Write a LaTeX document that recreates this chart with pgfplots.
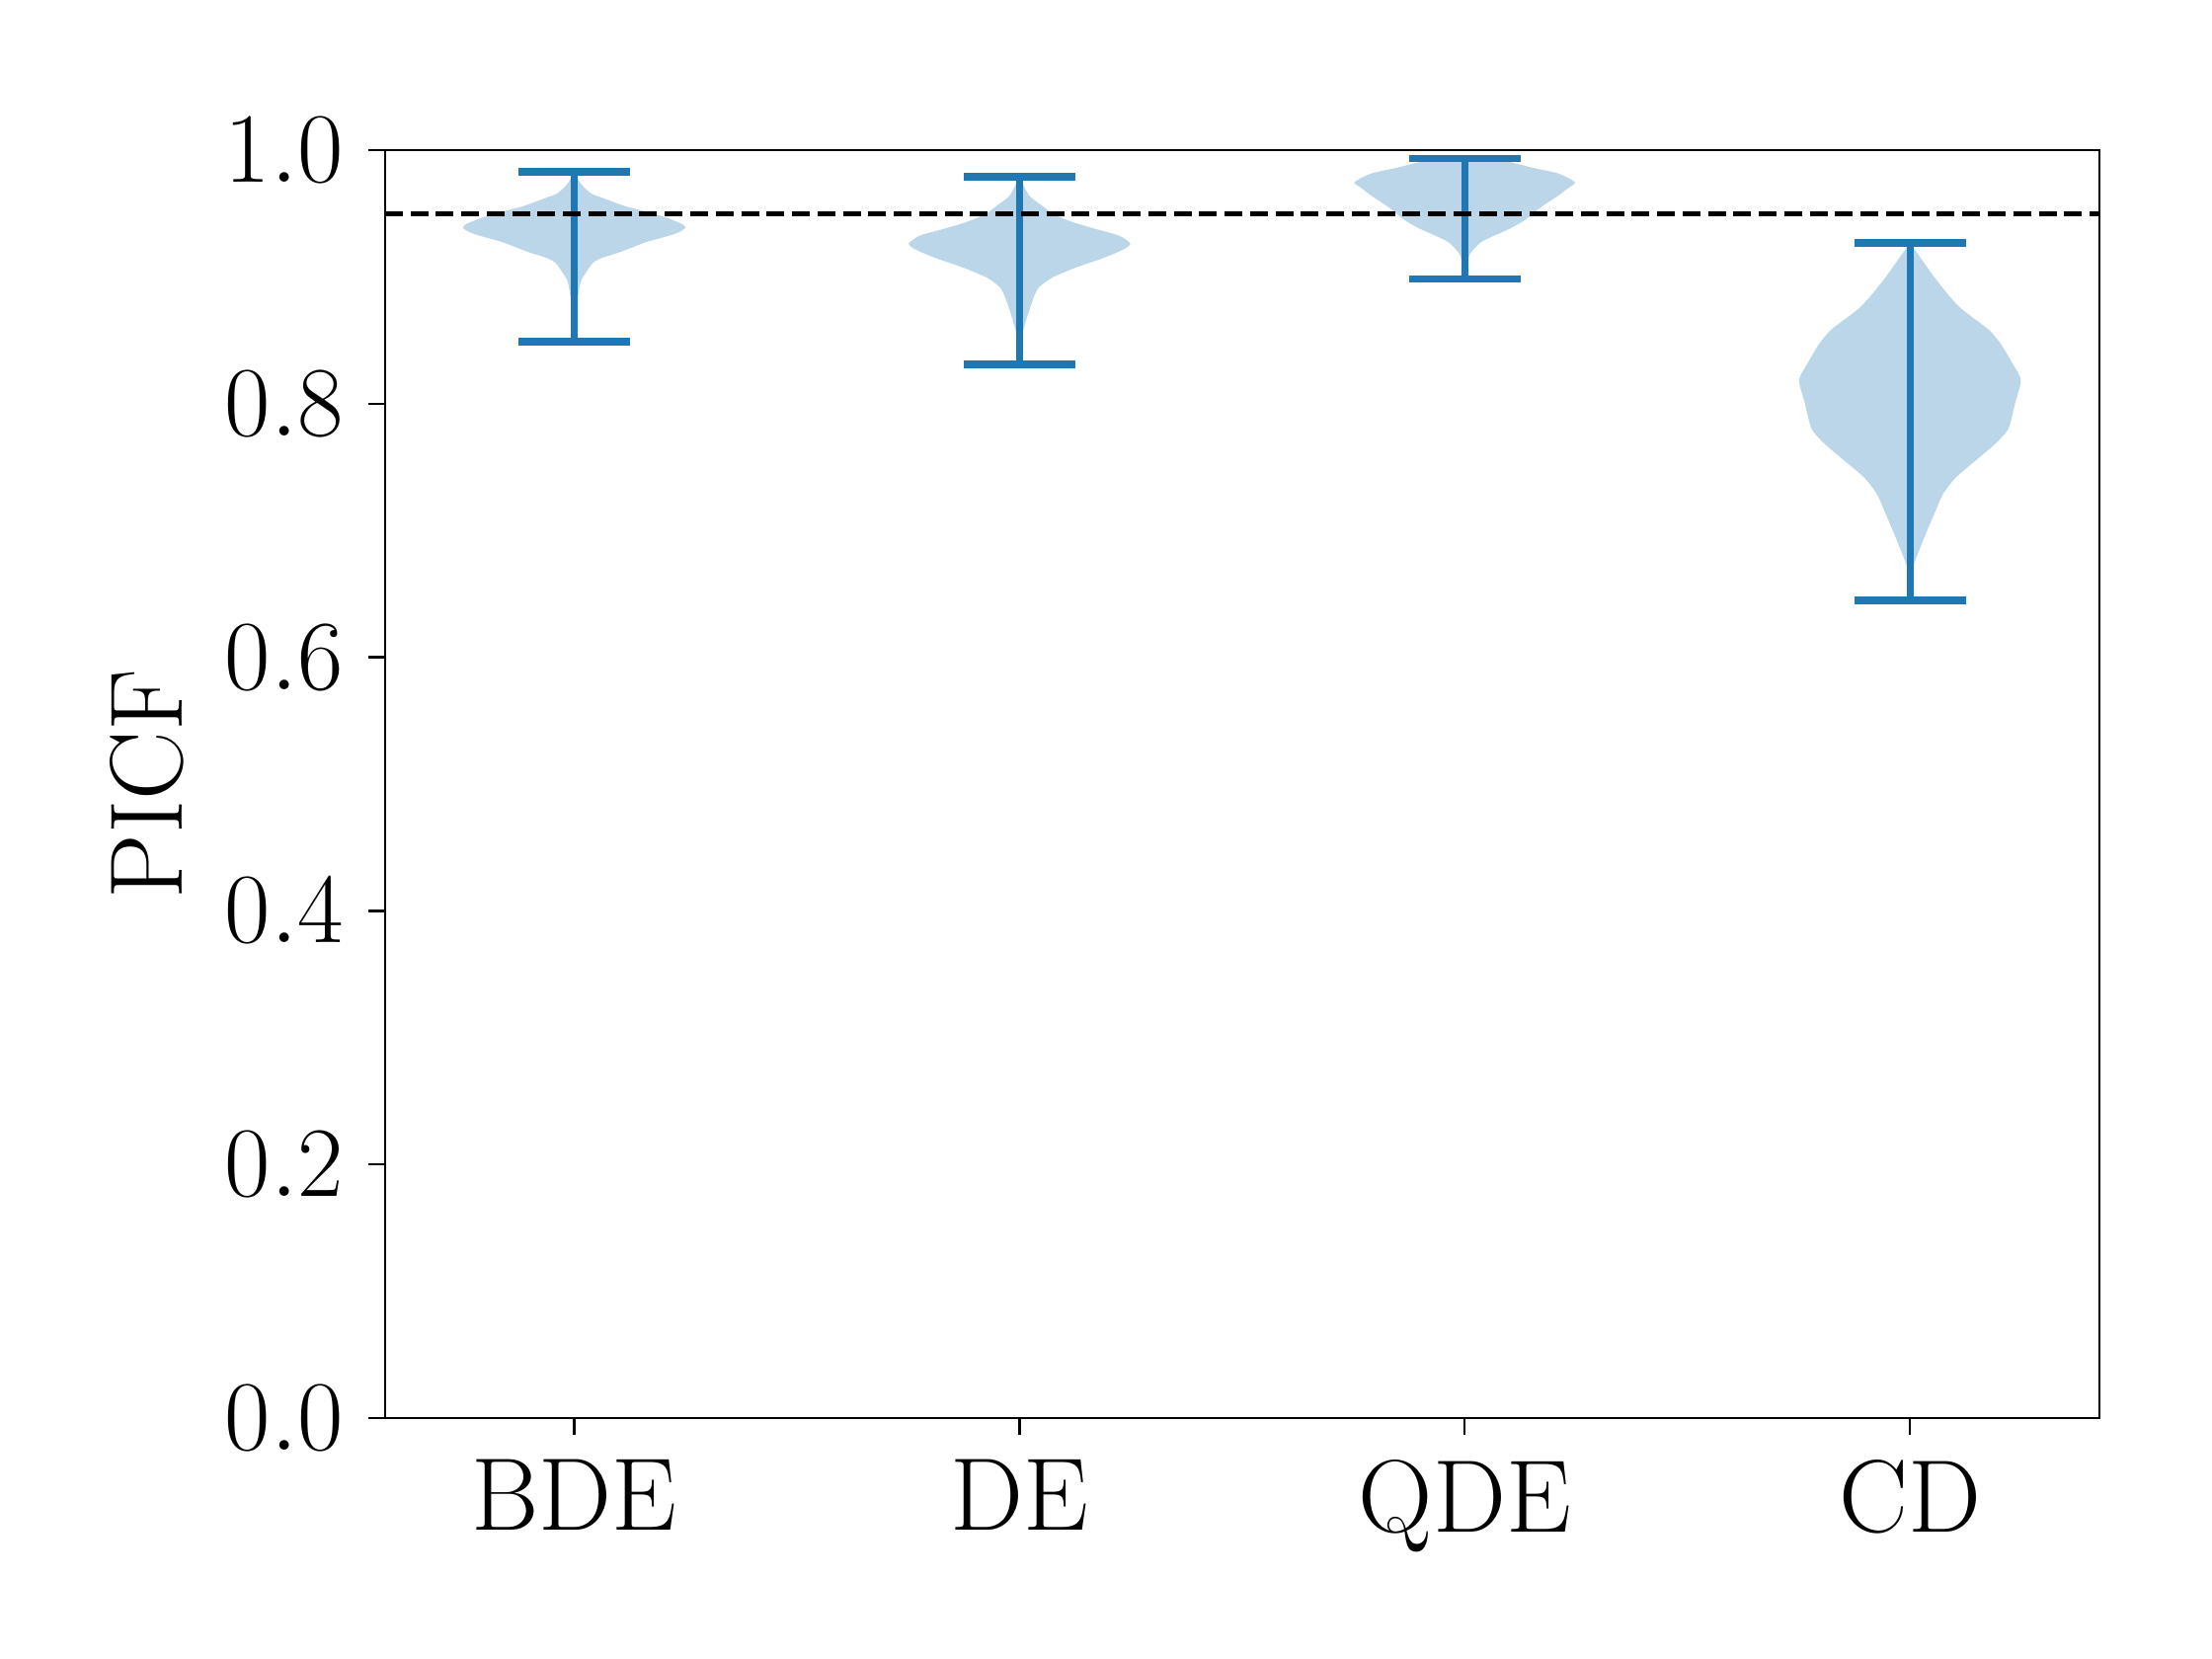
\documentclass[border=0pt]{standalone}
\usepackage{pgfplots}
\pgfplotsset{compat=1.18}
\definecolor{tabblue}{HTML}{1F77B4}
\definecolor{violinfill}{RGB}{187,214,232}

\begin{document}
\fontsize{21.5}{25}\selectfont
\begin{tikzpicture}
\begin{axis}[
  width=357.1pt, height=264.1pt, scale only axis,
  xmin=0.575, xmax=4.425, ymin=0, ymax=1,
  xtick={1,2,3,4}, xticklabels={BDE,DE,QDE,CD},
  ytick={0,0.2,0.4,0.6,0.8,1.0},
  yticklabel style={xshift=2.2pt, /pgf/number format/.cd, fixed, fixed zerofill, precision=1},
  xticklabel style={yshift=2.2pt},
  tick align=outside, tick pos=left,
  major tick length=3.5pt,
  every tick/.style={black, line width=0.5pt},
  axis line style={line width=0.3pt},
  ylabel={PICF},
  every axis y label/.style={at={([xshift=-41.8pt]axis description cs:0,0.5)},
    rotate=90, anchor=south, inner sep=0pt},
  line cap=butt,
]
% violin bodies
\addplot[draw=none, fill=violinfill, smooth, tension=0.4] coordinates {
  (1,0.983) (1.015,0.9736) (1.038,0.9659) (1.066,0.9621) (1.116,0.9557)
  (1.173,0.9506) (1.218,0.9454) (1.243,0.9416) (1.25,0.939) (1.237,0.9357)
  (1.213,0.9326) (1.161,0.9275) (1.104,0.9198) (1.059,0.9147) (1.041,0.9108)
  (1.028,0.9044) (1.015,0.8967) (1.008,0.8839) (1.004,0.871) (1,0.849)
  (0.996,0.871) (0.992,0.8839) (0.985,0.8967) (0.972,0.9044) (0.959,0.9108)
  (0.941,0.9147) (0.896,0.9198) (0.839,0.9275) (0.787,0.9326) (0.763,0.9357)
  (0.75,0.939) (0.757,0.9416) (0.782,0.9454) (0.827,0.9506) (0.884,0.9557)
  (0.934,0.9621) (0.962,0.9659) (0.985,0.9736) (1,0.983)
} -- cycle;
\addplot[draw=none, fill=violinfill, smooth, tension=0.4] coordinates {
  (2,0.979) (2.011,0.971) (2.024,0.9634) (2.053,0.9557) (2.078,0.9493)
  (2.123,0.9429) (2.173,0.9377) (2.224,0.9326) (2.249,0.9262) (2.230,0.9211)
  (2.186,0.9147) (2.123,0.907) (2.072,0.8993) (2.043,0.8916) (2.032,0.8839)
  (2.022,0.8737) (2.013,0.8634) (2.006,0.8532) (2,0.831)
  (1.994,0.8532) (1.987,0.8634) (1.978,0.8737) (1.968,0.8839) (1.957,0.8916)
  (1.928,0.8993) (1.877,0.907) (1.814,0.9147) (1.770,0.9211) (1.751,0.9262)
  (1.776,0.9326) (1.827,0.9377) (1.877,0.9429) (1.922,0.9493) (1.947,0.9557)
  (1.976,0.9634) (1.989,0.971) (2,0.979)
} -- cycle;
\addplot[draw=none, fill=violinfill, smooth, tension=0.4] coordinates {
  (3,0.9935) (3.09,0.9935) (3.103,0.9907) (3.155,0.986) (3.207,0.982)
  (3.233,0.978) (3.248,0.9743) (3.233,0.9704) (3.214,0.9652) (3.192,0.960)
  (3.170,0.9548) (3.152,0.9496) (3.133,0.9444) (3.100,0.9379) (3.067,0.9328)
  (3.037,0.9276) (3.018,0.9211) (3.009,0.9159) (3,0.8985)
  (2.991,0.9159) (2.982,0.9211) (2.963,0.9276) (2.933,0.9328) (2.900,0.9379)
  (2.867,0.9444) (2.848,0.9496) (2.830,0.9548) (2.808,0.960) (2.786,0.9652)
  (2.767,0.9704) (2.752,0.9743) (2.767,0.978) (2.793,0.982) (2.845,0.986)
  (2.897,0.9907) (2.91,0.9935) (3,0.9935)
} -- cycle;
\addplot[draw=none, fill=violinfill, smooth, tension=0.4] coordinates {
  (4,0.927) (4.059,0.8979) (4.110,0.8767) (4.177,0.8584) (4.206,0.8462)
  (4.228,0.8331) (4.249,0.8189) (4.237,0.8016) (4.221,0.7804) (4.191,0.7682)
  (4.147,0.7551) (4.103,0.7419) (4.074,0.7287) (4.055,0.7135) (4.033,0.6953)
  (4.018,0.6821) (4.007,0.6720) (4.002,0.6639) (4,0.645)
  (3.998,0.6639) (3.993,0.6720) (3.982,0.6821) (3.967,0.6953) (3.945,0.7135)
  (3.926,0.7287) (3.897,0.7419) (3.853,0.7551) (3.809,0.7682) (3.779,0.7804)
  (3.763,0.8016) (3.751,0.8189) (3.772,0.8331) (3.794,0.8462) (3.823,0.8584)
  (3.890,0.8767) (3.941,0.8979) (4,0.927)
} -- cycle;
% stems and caps
\addplot[tabblue, line width=1.5pt] coordinates {(1,0.849) (1,0.983)};
\addplot[tabblue, line width=1.5pt] coordinates {(0.875,0.983) (1.125,0.983)};
\addplot[tabblue, line width=1.5pt] coordinates {(0.875,0.849) (1.125,0.849)};
\addplot[tabblue, line width=1.5pt] coordinates {(2,0.831) (2,0.979)};
\addplot[tabblue, line width=1.5pt] coordinates {(1.875,0.979) (2.125,0.979)};
\addplot[tabblue, line width=1.5pt] coordinates {(1.875,0.831) (2.125,0.831)};
\addplot[tabblue, line width=1.5pt] coordinates {(3,0.8985) (3,0.9935)};
\addplot[tabblue, line width=1.5pt] coordinates {(2.875,0.9935) (3.125,0.9935)};
\addplot[tabblue, line width=1.5pt] coordinates {(2.875,0.8985) (3.125,0.8985)};
\addplot[tabblue, line width=1.5pt] coordinates {(4,0.645) (4,0.927)};
\addplot[tabblue, line width=1.5pt] coordinates {(3.875,0.927) (4.125,0.927)};
\addplot[tabblue, line width=1.5pt] coordinates {(3.875,0.645) (4.125,0.645)};
% reference level
\addplot[black, line width=1pt, dash pattern=on 3.7pt off 1.6pt] coordinates {(0.575,0.95) (4.425,0.95)};
\end{axis}
\path[use as bounding box] ([shift={(-80.2pt,-50.2pt)}]current axis.south west)
  rectangle ([shift={(23.5pt,31.3pt)}]current axis.north east);
\end{tikzpicture}
\end{document}
